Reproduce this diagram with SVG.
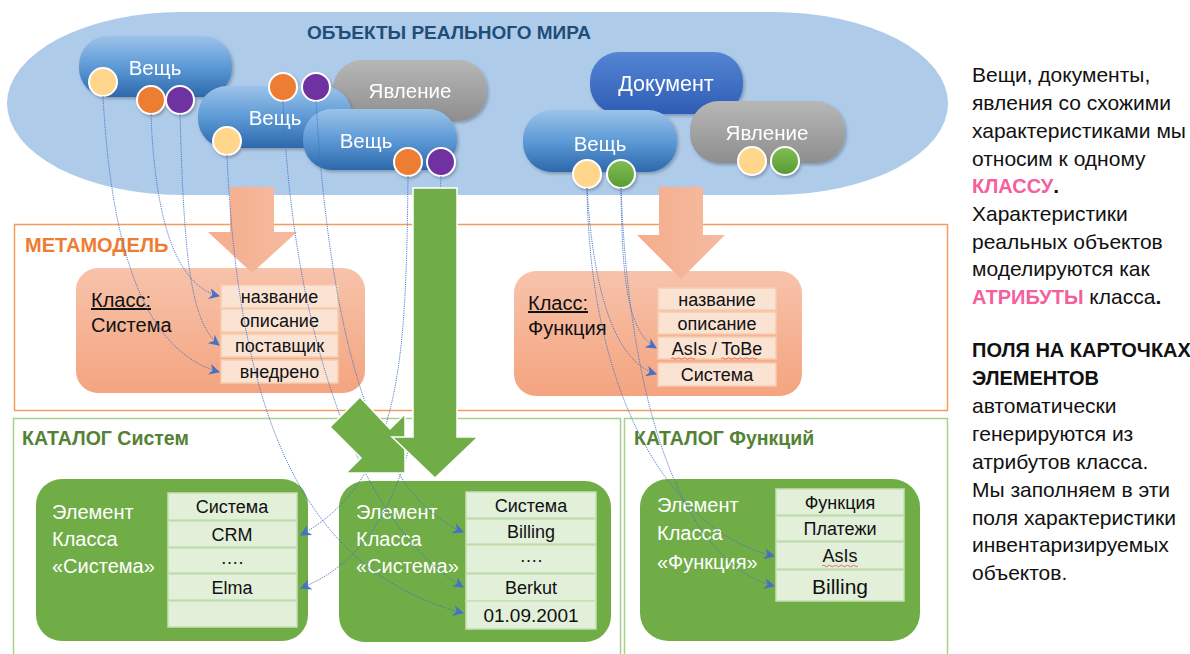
<svg xmlns="http://www.w3.org/2000/svg" width="1190" height="654" viewBox="0 0 1190 654">
<defs>
<linearGradient id="gThing" x1="0" y1="0" x2="0" y2="1"><stop offset="0" stop-color="#9cc3e9"/><stop offset="0.5" stop-color="#5d9ad6"/><stop offset="1" stop-color="#2c68ab"/></linearGradient>
<linearGradient id="gDoc" x1="0" y1="0" x2="0" y2="1"><stop offset="0" stop-color="#5585d3"/><stop offset="1" stop-color="#2e5db5"/></linearGradient>
<linearGradient id="gEvent" x1="0" y1="0" x2="0" y2="1"><stop offset="0" stop-color="#b7b7b7"/><stop offset="1" stop-color="#8e8e8e"/></linearGradient>
<linearGradient id="gClass" x1="0" y1="0" x2="0" y2="1"><stop offset="0" stop-color="#f7c3ab"/><stop offset="1" stop-color="#f4a47f"/></linearGradient>
<linearGradient id="gSalmon" x1="0" y1="0" x2="1" y2="0"><stop offset="0" stop-color="#f4ad8c"/><stop offset="1" stop-color="#f6bba0"/></linearGradient>
<linearGradient id="gGreenDot" x1="0" y1="0" x2="0" y2="1"><stop offset="0" stop-color="#7fbf52"/><stop offset="1" stop-color="#5a9a35"/></linearGradient>
<filter id="sh" x="-10%" y="-10%" width="125%" height="140%"><feDropShadow dx="1.5" dy="2" stdDeviation="1.5" flood-color="#000" flood-opacity="0.25"/></filter>
<marker id="ah" viewBox="0 0 10 10" refX="9" refY="5" markerWidth="11" markerHeight="11" markerUnits="userSpaceOnUse" orient="auto"><path d="M0,0 L10,5 L0,10 L3,5 Z" fill="#4472c4"/></marker>
<style>
text{font-family:"Liberation Sans",Arial,sans-serif}
.pill-t{fill:#fff;font-size:20.5px;text-anchor:middle}
.cir{stroke:#fff;stroke-width:2}
.y{fill:#ffd68c}.o{fill:#ed7d31}.p{fill:#7030a0}.g{fill:url(#gGreenDot)}
.cls{fill:url(#gClass)}
.attr{fill:#fbe3d4;stroke:#f8cbad;stroke-width:1.5}
.attr-t{font-size:18px;fill:#111;text-anchor:middle}
.cls-t{font-size:20px;fill:#111}
.el{fill:#70ad47}
.row{fill:#e2efd9;stroke:#c5e0b4;stroke-width:1.5}
.row-t{font-size:18px;fill:#111;text-anchor:middle}
.el-t{font-size:20px;fill:#fff}
.conn{fill:none;stroke:#4472c4;stroke-width:0.9;stroke-dasharray:1.2 1;marker-end:url(#ah)}
.side{font-size:21px;fill:#111}
.sideb{font-size:20px;fill:#111;font-weight:bold}
.pink{fill:#f4609c;font-weight:bold}
.b{font-weight:bold}
.spell{fill:none;stroke:#e05050;stroke-width:0.8}
</style>
</defs>

<g id="real-world">
<rect x="7" y="12" width="941" height="183" rx="175" ry="91.5" fill="#aecbea"/>
<text x="449" y="39" font-size="19" font-weight="bold" fill="#1f4e79" text-anchor="middle">ОБЪЕКТЫ РЕАЛЬНОГО МИРА</text>
</g>

<g id="thing1" filter="url(#sh)">
<rect x="79" y="36" width="153" height="61" rx="29" fill="url(#gThing)"/>
<text class="pill-t" x="155" y="75">Вещь</text>
<circle class="cir y" cx="103" cy="82" r="14"/>
<circle class="cir o" cx="151" cy="100" r="14"/>
<circle class="cir p" cx="180" cy="100" r="14"/>
</g>
<g id="event1" filter="url(#sh)">
<rect x="333" y="60" width="154" height="61" rx="29" fill="url(#gEvent)"/>
<text class="pill-t" x="410" y="98">Явление</text>
</g>
<g id="thing2" filter="url(#sh)">
<rect x="198" y="86" width="154" height="62" rx="29" fill="url(#gThing)"/>
<text class="pill-t" x="275" y="125">Вещь</text>
<circle class="cir y" cx="227" cy="141" r="14"/>
<circle class="cir o" cx="283" cy="87" r="14"/>
<circle class="cir p" cx="316" cy="87" r="14"/>
</g>
<g id="thing3" filter="url(#sh)">
<rect x="303" y="109" width="154" height="61" rx="29" fill="url(#gThing)"/>
<text class="pill-t" x="366" y="148">Вещь</text>
<circle class="cir o" cx="408" cy="162" r="14"/>
<circle class="cir p" cx="441" cy="162" r="14"/>
</g>
<g id="document" filter="url(#sh)">
<rect x="590" y="52" width="153" height="62" rx="29" fill="url(#gDoc)"/>
<text class="pill-t" x="666" y="91" style="font-size:21.5px">Документ</text>
</g>
<g id="thing4" filter="url(#sh)">
<rect x="523" y="110" width="154" height="62" rx="29" fill="url(#gThing)"/>
<text class="pill-t" x="600" y="151">Вещь</text>
<circle class="cir y" cx="587" cy="174" r="14"/>
<circle class="cir g" cx="621" cy="174" r="14"/>
</g>
<g id="event2" filter="url(#sh)">
<rect x="690" y="101" width="155" height="62" rx="29" fill="url(#gEvent)"/>
<text class="pill-t" x="767" y="140">Явление</text>
<circle class="cir y" cx="752" cy="161" r="14"/>
<circle class="cir g" cx="785" cy="161" r="14"/>
</g>

<g id="metamodel">
<rect x="14.5" y="224.5" width="933" height="186" fill="none" stroke="#f39c5e" stroke-width="1.5"/>
<text x="25" y="252" font-size="20" font-weight="bold" fill="#ed7d31">МЕТАМОДЕЛЬ</text>
</g>
<g id="catalog-systems">
<rect x="13.5" y="418.5" width="607" height="245" fill="none" stroke="#a9d18e" stroke-width="1.5"/>
<text x="22" y="445" font-size="19.5" font-weight="bold" fill="#548235">КАТАЛОГ Систем</text>
</g>
<g id="catalog-functions">
<rect x="624.5" y="418.5" width="323" height="245" fill="none" stroke="#a9d18e" stroke-width="1.5"/>
<text x="634" y="445" font-size="19.5" font-weight="bold" fill="#548235">КАТАЛОГ Функций</text>
</g>

<g id="class-system">
<rect class="cls" x="76" y="268" width="289" height="125" rx="22"/>
<text class="cls-t" x="91" y="307" text-decoration="underline">Класс:</text>
<text class="cls-t" x="91" y="332">Система</text>
<rect class="attr" x="221" y="285" width="117" height="23"/>
<rect class="attr" x="221" y="309" width="117" height="23"/>
<rect class="attr" x="221" y="334" width="117" height="23"/>
<rect class="attr" x="221" y="360" width="117" height="23"/>
<text class="attr-t" x="279.5" y="303">название</text>
<text class="attr-t" x="279.5" y="327">описание</text>
<text class="attr-t" x="279.5" y="352">поставщик</text>
<text class="attr-t" x="279.5" y="378">внедрено</text>
</g>
<g id="class-function">
<rect class="cls" x="514" y="271" width="288" height="125" rx="22"/>
<text class="cls-t" x="528" y="310" text-decoration="underline">Класс:</text>
<text class="cls-t" x="528" y="335">Функция</text>
<rect class="attr" x="658" y="288" width="118" height="22"/>
<rect class="attr" x="658" y="312" width="118" height="22"/>
<rect class="attr" x="658" y="337" width="118" height="22"/>
<rect class="attr" x="658" y="363" width="118" height="23"/>
<text class="attr-t" x="717" y="305.5">название</text>
<text class="attr-t" x="717" y="329.5">описание</text>
<text class="attr-t" x="717" y="354.5">AsIs / ToBe</text>
<text class="attr-t" x="717" y="381">Система</text>
<path class="spell" d="M671,358.5 q1.5,-1.5 3,0 t3,0 t3,0 t3,0 t3,0 t3,0 t3,0 t3,0 M721,358.5 q1.5,-1.5 3,0 t3,0 t3,0 t3,0 t3,0 t3,0 t3,0 t3,0 t3,0 t3,0 t3,0 t3,0"/>
</g>

<g id="element-system-1">
<rect class="el" x="36" y="479" width="272" height="162" rx="26"/>
<text class="el-t" x="52" y="519">Элемент</text>
<text class="el-t" x="52" y="546">Класса</text>
<text class="el-t" x="52" y="573">«Система»</text>
<rect class="row" x="168" y="493" width="129" height="27"/>
<rect class="row" x="168" y="521" width="129" height="26"/>
<rect class="row" x="168" y="548" width="129" height="25"/>
<rect class="row" x="168" y="574" width="129" height="26"/>
<rect class="row" x="168" y="601" width="129" height="26"/>
<text class="row-t" x="232" y="513">Система</text>
<text class="row-t" x="232" y="540.5">CRM</text>
<text class="row-t" x="232" y="564">….</text>
<text class="row-t" x="232" y="593.5">Elma</text>
</g>
<g id="element-system-2">
<rect class="el" x="339" y="481" width="272" height="161" rx="26"/>
<text class="el-t" x="356" y="519">Элемент</text>
<text class="el-t" x="356" y="546">Класса</text>
<text class="el-t" x="356" y="573">«Система»</text>
<rect class="row" x="466" y="492" width="130" height="26"/>
<rect class="row" x="466" y="519" width="130" height="25"/>
<rect class="row" x="466" y="545" width="130" height="28"/>
<rect class="row" x="466" y="574" width="130" height="27"/>
<rect class="row" x="466" y="601" width="130" height="28"/>
<text class="row-t" x="531" y="511.5">Система</text>
<text class="row-t" x="531" y="538">Billing</text>
<text class="row-t" x="531" y="562">….</text>
<text class="row-t" x="531" y="594">Berkut</text>
<text class="row-t" x="531" y="621.5" style="font-size:19px">01.09.2001</text>
</g>
<g id="element-function">
<rect class="el" x="640" y="479" width="280" height="162" rx="28"/>
<text class="el-t" x="657" y="512">Элемент</text>
<text class="el-t" x="657" y="540">Класса</text>
<text class="el-t" x="657" y="569">«Функция»</text>
<rect class="row" x="776" y="489" width="128" height="26"/>
<rect class="row" x="776" y="516" width="128" height="25"/>
<rect class="row" x="776" y="542" width="128" height="27"/>
<rect class="row" x="776" y="570" width="128" height="31"/>
<text class="row-t" x="840" y="508.5">Функция</text>
<text class="row-t" x="840" y="535">Платежи</text>
<text class="row-t" x="840" y="562">AsIs</text>
<text class="row-t" x="840" y="593.5" style="font-size:21px">Billing</text>
<path class="spell" d="M822,566 q1.5,-1.5 3,0 t3,0 t3,0 t3,0 t3,0 t3,0 t3,0 t3,0 t3,0 t3,0 t3,0 t3,0"/>
</g>

<g id="flows-salmon">
<polygon points="230,187 274,187 274,232 297,232 252,273 208,232 230,232" fill="url(#gSalmon)"/>
<polygon points="659,187 703,187 703,235 725,235 681,279 637,235 659,235" fill="url(#gSalmon)"/>
</g>

<g id="connectors">
<path class="conn" d="M151,114 C155,225 178,286 219,296"/>
<path class="conn" d="M180,114 C184,255 190,322 219,345"/>
<path class="conn" d="M103,96 C112,265 150,352 219,372"/>
<path class="conn" d="M227,155 C238,410 300,570 463,613"/>
<path class="conn" d="M283,101 C292,320 352,520 463,587"/>
<path class="conn" d="M316,101 C330,340 375,495 463,532"/>
<path class="conn" d="M408,176 C406,360 402,478 301,535"/>
<path class="conn" d="M441,176 C432,400 410,545 301,588"/>
<path class="conn" d="M621,188 C622,292 630,332 656,348"/>
<path class="conn" d="M587,188 C594,302 618,362 656,374"/>
<path class="conn" d="M587,188 C590,410 680,535 774,556"/>
<path class="conn" d="M621,188 C630,425 690,565 774,586"/>
</g>

<g id="flows-green">
<polygon points="360,397 390,429 405,414 405,473 346,473 361,458 330,427" fill="#70ad47" stroke="#fff" stroke-width="1.5"/>
<polygon points="413,188 457,188 457,437 478,437 435,478 392,437 413,437" fill="#70ad47" stroke="#fff" stroke-width="1.5"/>
</g>

<g id="side-notes">
<text class="side" x="972" y="82">Вещи, документы,</text>
<text class="side" x="972" y="110">явления со схожими</text>
<text class="side" x="972" y="138">характеристиками мы</text>
<text class="side" x="972" y="166">относим к одному</text>
<text class="side" x="972" y="193"><tspan class="pink" style="font-size:20px">КЛАССУ</tspan><tspan class="b">.</tspan></text>
<text class="side" x="972" y="221">Характеристики</text>
<text class="side" x="972" y="249">реальных объектов</text>
<text class="side" x="972" y="276">моделируются как</text>
<text class="side" x="972" y="304"><tspan class="pink" style="font-size:20px">АТРИБУТЫ</tspan> класса<tspan class="b">.</tspan></text>
<text class="sideb" x="972" y="357">ПОЛЯ НА КАРТОЧКАХ</text>
<text class="sideb" x="972" y="385">ЭЛЕМЕНТОВ</text>
<text class="side" x="972" y="413">автоматически</text>
<text class="side" x="972" y="441">генерируются из</text>
<text class="side" x="972" y="469">атрибутов класса.</text>
<text class="side" x="972" y="497">Мы заполняем в эти</text>
<text class="side" x="972" y="525">поля характеристики</text>
<text class="side" x="972" y="552">инвентаризируемых</text>
<text class="side" x="972" y="580">объектов.</text>
</g>
</svg>
